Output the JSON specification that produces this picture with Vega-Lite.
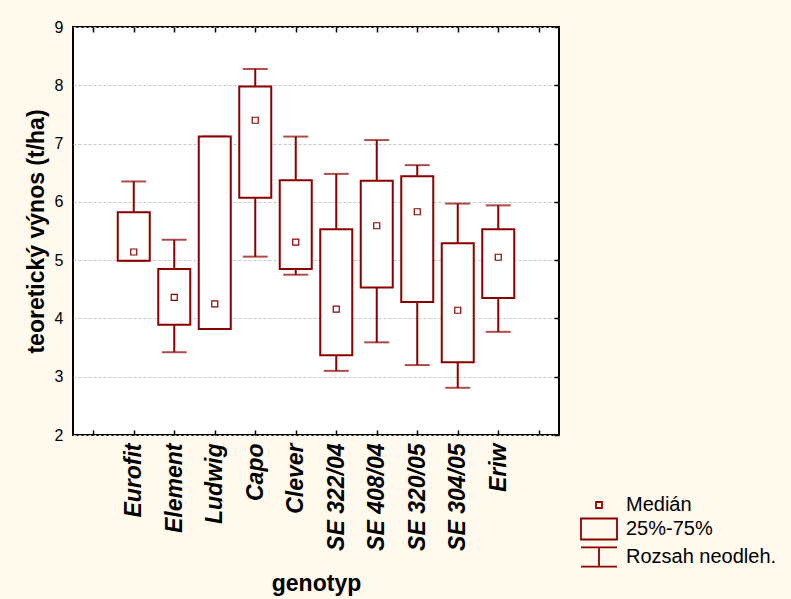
{
  "$schema": "https://vega.github.io/schema/vega-lite/v6.json",
  "width": 486,
  "height": 408,
  "autosize": {"type": "none"},
  "padding": {"left": 73, "top": 27, "right": 232, "bottom": 164},
  "background": "#FFF9EE",
  "config": {
    "view": {"fill": "white", "stroke": "black", "strokeWidth": 2},
    "font": "Liberation Sans"
  },
  "data": {
    "values": [
      {"genotyp": "Eurofit", "min": 4.99, "q1": 4.99, "med": 5.14, "q3": 5.82, "max": 6.35},
      {"genotyp": "Element", "min": 3.42, "q1": 3.89, "med": 4.36, "q3": 4.85, "max": 5.35},
      {"genotyp": "Ludwig", "min": 3.82, "q1": 3.82, "med": 4.25, "q3": 7.12, "max": 7.12},
      {"genotyp": "Capo", "min": 5.06, "q1": 6.07, "med": 7.40, "q3": 7.98, "max": 8.28},
      {"genotyp": "Clever", "min": 4.75, "q1": 4.85, "med": 5.31, "q3": 6.37, "max": 7.12},
      {"genotyp": "SE 322/04", "min": 3.10, "q1": 3.37, "med": 4.16, "q3": 5.53, "max": 6.48},
      {"genotyp": "SE 408/04", "min": 3.59, "q1": 4.53, "med": 5.59, "q3": 6.36, "max": 7.06},
      {"genotyp": "SE 320/05", "min": 3.20, "q1": 4.28, "med": 5.83, "q3": 6.44, "max": 6.63},
      {"genotyp": "SE 304/05", "min": 2.81, "q1": 3.25, "med": 4.14, "q3": 5.29, "max": 5.97},
      {"genotyp": "Eriw", "min": 3.77, "q1": 4.35, "med": 5.05, "q3": 5.53, "max": 5.94}
    ]
  },
  "layer": [
    {
      "mark": {"type": "rule", "color": "#8B0000", "strokeWidth": 2},
      "encoding": {
        "x": {
          "field": "genotyp", "type": "nominal", "sort": null,
          "scale": {"type": "point", "padding": 0.5, "domain": ["_a", "Eurofit", "Element", "Ludwig", "Capo", "Clever", "SE 322/04", "SE 408/04", "SE 320/05", "SE 304/05", "Eriw", "_b"]},
          "axis": {
            "orient": "bottom", "title": "genotyp", "domain": false,
            "tickSize": -5, "tickColor": "black", "tickWidth": 1.5,
            "labelAngle": -90, "labelAlign": "right", "labelBaseline": "middle",
            "labelFont": "Liberation Sans", "labelFontSize": 23, "labelFontWeight": "bold", "labelFontStyle": "italic",
            "labelColor": "black", "labelPadding": 13,
            "labelExpr": "indexof(datum.value, '_') == 0 ? '' : datum.value",
            "titleFont": "Liberation Sans", "titleFontSize": 23, "titleFontWeight": "bold", "titleColor": "black", "titlePadding": 22
          }
        },
        "y": {
          "field": "min", "type": "quantitative",
          "scale": {"domain": [2, 9], "nice": false, "zero": false},
          "axis": {
            "orient": "left", "title": "teoretický výnos (t/ha)", "domain": false,
            "values": [2, 3, 4, 5, 6, 7, 8, 9],
            "ticks": false, "labelPadding": 10,
            "labelFont": "Liberation Sans", "labelFontSize": 16, "labelColor": "black",
            "grid": true, "gridColor": "#C8C8C8", "gridDash": [3, 2], "gridWidth": 1,
            "titleFont": "Liberation Sans", "titleFontSize": 23, "titleFontWeight": "bold", "titleColor": "black", "titlePadding": 6
          }
        },
        "y2": {"field": "q1"}
      }
    },
    {
      "mark": {"type": "rule", "color": "#8B0000", "strokeWidth": 2},
      "encoding": {
        "x": {"field": "genotyp", "type": "nominal", "sort": null,
          "axis": {"orient": "top", "title": null, "domain": false, "labels": false, "tickSize": -5, "tickColor": "black", "tickWidth": 1.5}},
        "y": {"field": "q3", "type": "quantitative",
          "axis": {"orient": "right", "title": null, "domain": false, "labels": false, "values": [2, 3, 4, 5, 6, 7, 8, 9], "tickSize": -5, "tickColor": "black", "tickWidth": 1.5, "grid": false}},
        "y2": {"field": "max"}
      }
    },
    {
      "mark": {"type": "tick", "color": "#8B0000", "size": 25, "thickness": 2},
      "encoding": {
        "x": {"field": "genotyp", "type": "nominal", "sort": null, "axis": null},
        "y": {"field": "min", "type": "quantitative", "axis": null}
      }
    },
    {
      "mark": {"type": "tick", "color": "#8B0000", "size": 25, "thickness": 2},
      "encoding": {
        "x": {"field": "genotyp", "type": "nominal", "sort": null, "axis": null},
        "y": {"field": "max", "type": "quantitative", "axis": null}
      }
    },
    {
      "mark": {"type": "bar", "size": 32, "fill": "white", "stroke": "#8B0000", "strokeWidth": 2},
      "encoding": {
        "x": {"field": "genotyp", "type": "nominal", "sort": null, "axis": null},
        "y": {"field": "q1", "type": "quantitative", "axis": null},
        "y2": {"field": "q3"}
      }
    },
    {
      "mark": {"type": "point", "filled": false, "size": 36, "strokeWidth": 1.2, "color": "#8B0000", "opacity": 1},
      "encoding": {
        "x": {"field": "genotyp", "type": "nominal", "sort": null, "axis": null},
        "y": {"field": "med", "type": "quantitative", "axis": null},
        "shape": {
          "datum": "Medián", "type": "nominal",
          "scale": {
            "domain": ["Medián", "25%-75%", "Rozsah neodleh."],
            "range": ["M-1,-1H1V1H-1Z", "M-6,-3.5H6V3.5H-6Z", "M-6,-3.2H6M0,-3.2V3.2M-6,3.2H6"]
          },
          "legend": {
            "title": null, "orient": "none", "legendX": 516, "legendY": 468,
            "symbolSize": 36, "symbolStrokeColor": "#8B0000", "symbolStrokeWidth": 1.8,
            "symbolFillColor": "transparent", "symbolOpacity": 1,
            "labelFont": "Liberation Sans", "labelFontSize": 20, "labelColor": "black",
            "labelOffset": 17, "rowPadding": -1
          }
        }
      }
    }
  ],
  "resolve": {"axis": {"x": "independent", "y": "independent"}}
}
